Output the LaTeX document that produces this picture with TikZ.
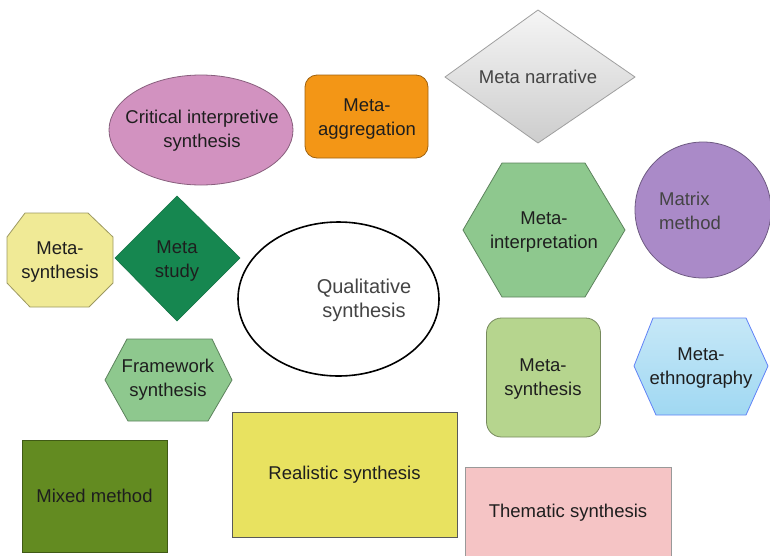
\documentclass[tikz,border=0pt]{standalone}
\usepackage{fontspec}
\setmainfont{Liberation Sans}
\usepackage{xcolor}
\usetikzlibrary{shapes.geometric}

\definecolor{txtdark}{RGB}{30,30,30}
\definecolor{txtgray}{RGB}{68,68,68}
\definecolor{critpink}{RGB}{210,146,192}
\definecolor{aggorange}{RGB}{243,150,22}
\definecolor{narrgray}{RGB}{205,205,205}
\definecolor{matrixpurple}{RGB}{170,138,200}
\definecolor{interpgreen}{RGB}{142,200,142}
\definecolor{synthyellow}{RGB}{240,234,150}
\definecolor{studygreen}{RGB}{22,135,80}
\definecolor{rsynthgreen}{RGB}{182,213,142}
\definecolor{ethnoblue}{RGB}{160,216,242}
\definecolor{mixgreen}{RGB}{99,139,33}
\definecolor{realyellow}{RGB}{232,226,96}
\definecolor{themepink}{RGB}{245,196,197}

\begin{document}
\begin{tikzpicture}[
  x=1pt, y=-1pt,
  every node/.style = {font=\fontsize{18.5}{24}\selectfont, text=txtdark, align=center, inner sep=0pt},
  method/.style = {draw=#1!65!black, fill=#1, line width=0.8pt},
  box/.style = {method=#1, rectangle, minimum width=0pt, minimum height=0pt},
  core/.style = {ellipse, draw=black, line width=1.6pt, fill=white}
]
\useasboundingbox (0,0) rectangle (770,555);

% Shapes
\node[method=critpink, ellipse, minimum width=184, minimum height=110] (critc) at (201,130) {};
\node (crit) at (202,131) {Critical interpretive\\synthesis};
\node[method=aggorange, rectangle, rounded corners=12pt, minimum width=123, minimum height=83] (agg) at (366.5,116.5) {};
\node (aggtext) at (367,119) {Meta-\\aggregation};
\path[draw=gray!75, top color=gray!8, bottom color=narrgray, line width=0.8pt]
  (445,77) -- (538,10) -- (635,77) -- (538,143) -- cycle;
\node[text=txtgray] (narr) at (538,77) {Meta narrative};
\node[method=matrixpurple, circle, minimum size=136] (matrixc) at (703,210) {};
\node[text=txtgray, align=left] (matrix) at (690,211) {Matrix\\method};

\draw[method=interpgreen] (502,163) -- (585,163) -- (625,230) -- (585,297) -- (502,297) -- (463,230) -- cycle;
\node (interp) at (544,232) {Meta-\\interpretation};
\draw[method=synthyellow] (25,213) -- (88,213) -- (113,237) -- (113,283) -- (89,307) -- (30,307) -- (7,283) -- (7,237) -- cycle;
\node (synthl) at (60,262) {Meta-\\synthesis};
\draw[fill=studygreen, draw=studygreen!85!black, line width=0.6pt] (115,258) -- (177,196) -- (240,258) -- (177,321) -- cycle;
\node (study) at (177,261) {Meta\\study};

\node[core, minimum width=201, minimum height=154] (qualc) at (338.5,299) {};
\node[text=txtgray, font=\fontsize{20}{24}\selectfont] (qual) at (364,300) {Qualitative\\synthesis};

\node[method=rsynthgreen, rectangle, rounded corners=15pt, minimum width=114, minimum height=119] (synthr) at (543.5,377.5) {};
\node (synthrtext) at (543,379) {Meta-\\synthesis};
\path[draw=ethnoblue!60!blue, top color=ethnoblue!60!white, bottom color=ethnoblue, line width=0.8pt]
  (653,318) -- (746,318) -- (768,366) -- (746,415) -- (656,415) -- (634,366) -- cycle;
\node (ethno) at (701,368) {Meta-\\ethnography};
\draw[method=interpgreen] (127,339) -- (212,339) -- (232,380) -- (208,421) -- (128,421) -- (105,380) -- cycle;
\node (frame) at (168,380) {Framework\\synthesis};

\node[box=mixgreen, minimum width=145, minimum height=112] (mixed) at (94.5,496) {Mixed method};
\node[box=realyellow, draw=gray!70!black, minimum width=225, minimum height=125] (real) at (344.5,474.5) {Realistic synthesis};
\node[box=themepink, draw=gray!80, minimum width=206, minimum height=92] (theme) at (568,513) {Thematic synthesis};

\end{tikzpicture}
\end{document}
